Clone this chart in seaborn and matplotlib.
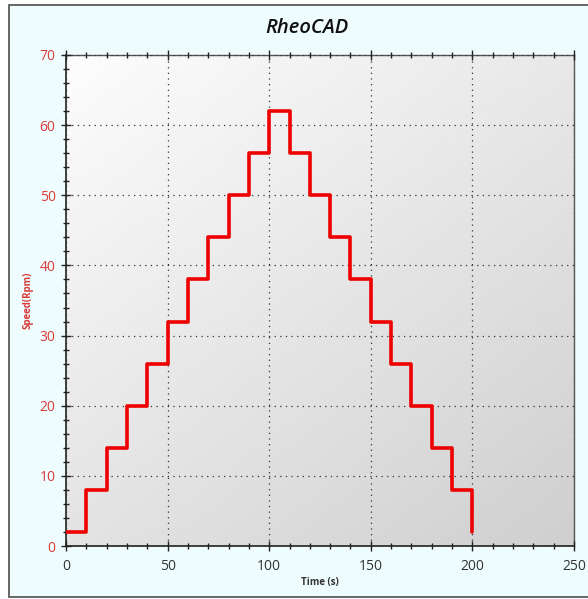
import numpy as np
import pandas as pd
import matplotlib
matplotlib.use("Agg")
import matplotlib.pyplot as plt
from matplotlib.patches import Rectangle
from matplotlib.ticker import MultipleLocator
import seaborn as sns

# ---- data ----
time_s = [0, 10, 20, 30, 40, 50, 60, 70, 80, 90, 100,
          110, 120, 130, 140, 150, 160, 170, 180, 190, 200]
speed_rpm = [2, 8, 14, 20, 26, 32, 38, 44, 50, 56, 62,
             56, 50, 44, 38, 32, 26, 20, 14, 8, 2]
x_ticks = [0, 50, 100, 150, 200, 250]
y_ticks = [0, 10, 20, 30, 40, 50, 60, 70]
title = "RheoCAD"
x_label = "Time (s)"
y_label = "Speed(Rpm)"

df = pd.DataFrame({"time": time_s, "speed": speed_rpm})

sns.set_theme(style="white")
plt.rcParams['font.family'] = ['Open Sans', 'DejaVu Sans']

fig = plt.figure(figsize=(5.88, 5.99), dpi=100)
fig.patch.set_facecolor("white")
# panel background with border
W, H = 588, 599
fig.patches.append(Rectangle((9 / W, 2 / H), 1.0, 1 - 7 / H, transform=fig.transFigure,
                             facecolor="#EFFCFD", edgecolor="#5a5a5a", linewidth=1.3,
                             zorder=-10))

ax = fig.add_axes([66 / W, 1 - 546 / H, (574 - 66) / W, (546 - 55) / H])
ax.set_zorder(1)
ax.set_facecolor("none")

# gradient background
n = 200
u = np.linspace(0, 1, n)[None, :]
v = np.linspace(1, 0, n)[:, None]
grad = 0.99 - 0.08 * u - 0.10 * (1 - v)
grad = np.clip(grad, 0, 1)
ax.imshow(grad, cmap="gray", vmin=0, vmax=1, extent=[0, 1, 0, 1],
          transform=ax.transAxes, aspect="auto", zorder=-5, interpolation="bilinear")

sns.lineplot(data=df, x="time", y="speed", ax=ax, drawstyle="steps-post",
             color="#EE0000", linewidth=2.6, estimator=None, sort=False, zorder=5)

ax.set_xlim(0, 250)
ax.set_ylim(0, 70)
ax.set_xticks(x_ticks)
ax.set_yticks(y_ticks)
ax.xaxis.set_minor_locator(MultipleLocator(10))
ax.yaxis.set_minor_locator(MultipleLocator(2))

ax.grid(True, which="major", linestyle=(0, (1, 3.5)), color="#333333", linewidth=0.9)
ax.set_axisbelow(False)

for s in ["left", "bottom"]:
    ax.spines[s].set_color("#222222")
    ax.spines[s].set_linewidth(1.2)
for s in ["top", "right"]:
    ax.spines[s].set_color("#555555")
    ax.spines[s].set_linewidth(1.0)

ax.tick_params(axis="both", which="major", direction="inout", length=7, width=1,
               color="#222222", bottom=True, left=True, top=True, right=False)
ax.tick_params(axis="both", which="minor", direction="inout", length=5, width=1,
               color="#222222", bottom=True, left=True, top=True, right=False)
ax.tick_params(axis="x", which="both", labeltop=False)
ax.tick_params(axis="y", labelcolor="#D93A3A", labelsize=10, pad=4)
ax.tick_params(axis="x", labelcolor="#333333", labelsize=10, pad=6)

ax.set_xlabel(x_label, fontsize=7, fontweight="bold", color="#333333", labelpad=2)
ax.set_ylabel(y_label, fontsize=7, fontweight="bold", color="#D93A3A", labelpad=4)

fig.text(307 / W, 1 - 28 / H, title, ha="center", va="center",
         fontsize=14.5, fontstyle="italic", fontweight="semibold", color="#111111")

fig.savefig("out.png", dpi=100, facecolor=fig.get_facecolor())
